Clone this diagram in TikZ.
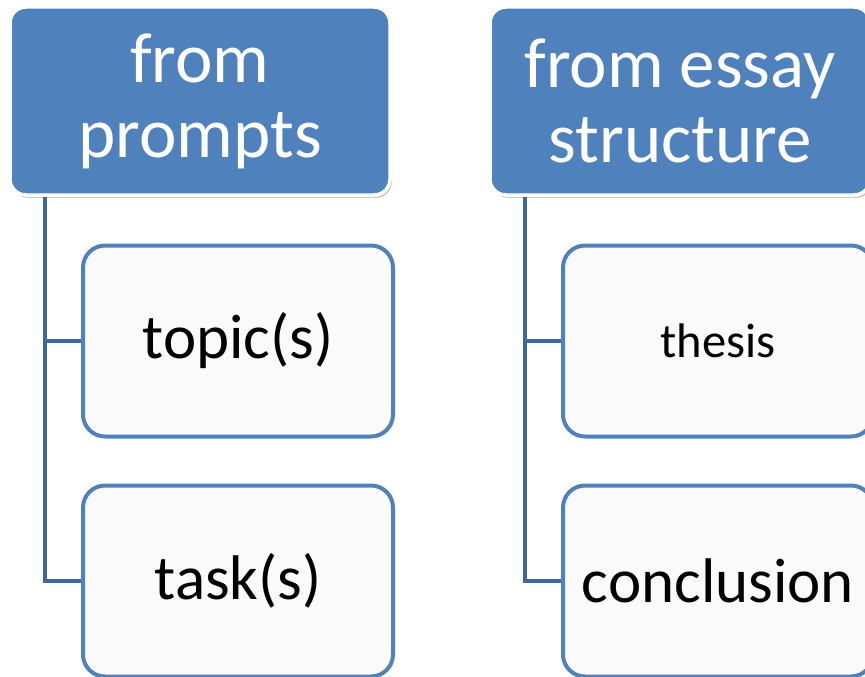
\documentclass[tikz,border=0pt]{standalone}
\usepackage{fontspec}
\setmainfont{Carlito}
\usetikzlibrary{shadows}

\definecolor{boxblue}{HTML}{4F81BD}
\definecolor{linkblue}{HTML}{41689A}

\tikzset{
  header/.style={draw=white, line width=3.5pt, fill=boxblue, rounded corners=16pt,
    text=white, align=center, inner sep=0pt, minimum width=380pt, minimum height=188pt,
    font=\fontsize{71}{75}\selectfont,
    drop shadow={shadow xshift=2pt, shadow yshift=-3pt, opacity=0.4}},
  leaf/.style={draw=boxblue, line width=4pt, fill=white!98!black, rounded corners=22pt,
    inner sep=0pt, minimum width=310pt, minimum height=191pt,
    font=\fontsize{63}{75}\selectfont},
  link/.style={draw=linkblue, line width=4pt}
}

\begin{document}
\begin{tikzpicture}[x=1pt,y=-1pt]
\useasboundingbox (0,0) rectangle (865,677);
\clip (0,0) rectangle (865,677);

% headers
\node[header] (prompts) at (200,101) {from\\prompts};
\node[header] (essay) at (680,101) {from essay\\structure};

% children
\node[leaf] (topic) at (238,341) {topic(s)};
\node[leaf] (task) at (238,581) {task(s)};
\node[leaf, font=\fontsize{48.5}{60}\selectfont] (thesis) at (718,341) {thesis};
\node[leaf] (conclusion) at (718,581) {conclusion};

% tree lines
\node[coordinate] (p1) at (45,197) {};
\node[coordinate] (p2) at (525,197) {};
\draw[link] (p1) |- (topic.west);
\draw[link] (p1) |- (task.west);
\draw[link] (p2) |- (thesis.west);
\draw[link] (p2) |- (conclusion.west);
\end{tikzpicture}
\end{document}
